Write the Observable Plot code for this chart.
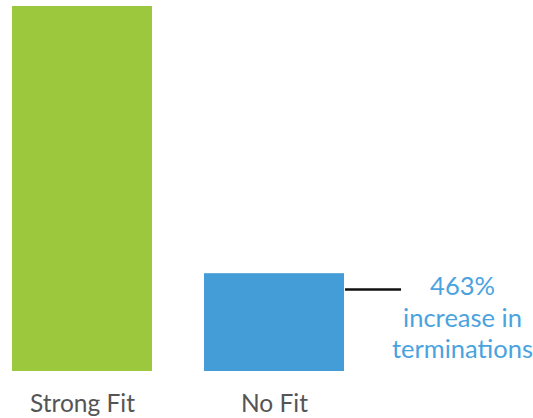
<!DOCTYPE html>
<html>
<head>
<meta charset="utf-8">
<script src="https://cdn.jsdelivr.net/npm/d3@7"></script>
<script src="https://cdn.jsdelivr.net/npm/@observablehq/plot@0.6"></script>
<style>
  html, body { margin: 0; padding: 0; background: #fff; }
  #chart svg { display: block; }
</style>
</head>
<body>
<div id="chart"></div>
<script>
const categories = ["Strong Fit", "No Fit"];
const values = [100, 26.8];
const colors = ["#9BC83D", "#449DD6"];
const annotationValue = 22.5;
const annotationLines = ["463%", "increase in", "terminations"];

const data = categories.map((c, i) => ({category: c, value: values[i], color: colors[i]}));
const fontFamily = "Lato, 'Open Sans', sans-serif";

const chart = Plot.plot({
  width: 533,
  height: 418,
  marginTop: 6,
  marginBottom: 47,
  marginLeft: 11,
  marginRight: 188,
  style: {fontFamily, fontSize: "24.5px", color: "#555", background: "#fff"},
  x: {domain: categories, paddingInner: 0.2694, paddingOuter: 0, label: null, tickSize: 0, tickPadding: 23},
  y: {domain: [0, 100], axis: null},
  marks: [
    Plot.barY(data, {x: "category", y: "value", fill: "color"}),
    Plot.tickY([{category: "No Fit", value: annotationValue}], {
      x: "category", y: "value", stroke: "#111", strokeWidth: 2.5,
      dx: 141, insetRight: 84
    }),
    Plot.text([{category: "No Fit", value: annotationValue, label: annotationLines.join("\n")}], {
      x: "category", y: "value", text: "label", fill: "#4AA3DF",
      fontSize: 25.5, lineHeight: 1.22, lineAnchor: "top", dx: 188, dy: -16
    })
  ]
});
document.getElementById("chart").appendChild(chart);
</script>
</body>
</html>
